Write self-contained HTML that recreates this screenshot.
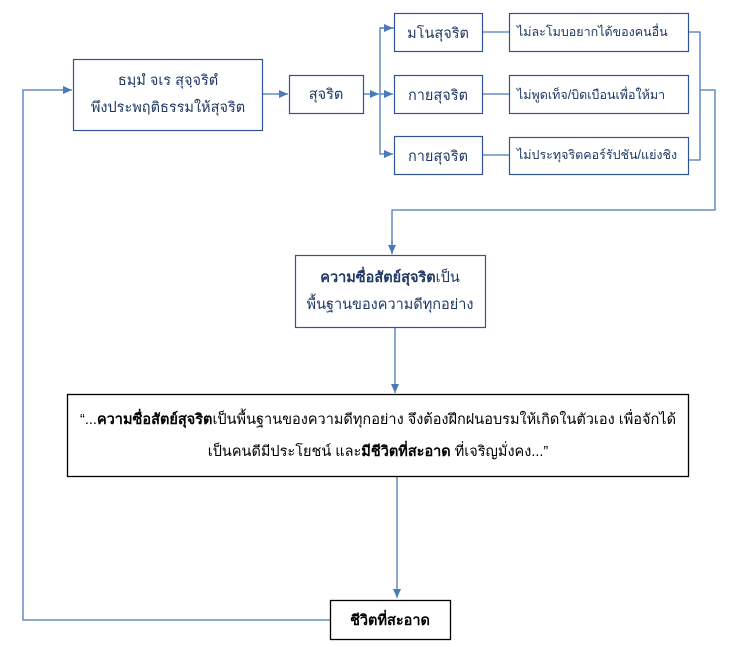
<!DOCTYPE html>
<html><head><meta charset="utf-8"><style>
html,body{margin:0;padding:0;background:#fff;}
svg{display:block;}
text{font-family:"Liberation Sans","DejaVu Sans",sans-serif;font-size:14.5px;}
.m{text-anchor:middle;}
.s{text-anchor:start;font-size:12.5px;}
</style></head><body>
<svg width="746" height="647" viewBox="0 0 746 647" xmlns="http://www.w3.org/2000/svg">
<defs><marker id="a" markerWidth="10" markerHeight="10" refX="9" refY="5" orient="auto" markerUnits="userSpaceOnUse"><path d="M0,1 L9,5 L0,9 z" fill="#4a7ab8"/></marker></defs>
<g fill="none" stroke="#4a7ab8" stroke-width="1.3">
<path d="M262,94 H288" marker-end="url(#a)"/>
<path d="M363,94 H379" marker-end="url(#a)"/>
<path d="M394,28 H380 V154 H393" marker-end="url(#a)"/>
<path d="M380,28 H393" marker-end="url(#a)"/>
<path d="M380,94 H393" marker-end="url(#a)"/>
<path d="M482,32 H509 M482,94 H509 M482,155 H509"/>
<path d="M688,32 H700 V160 H688 M700,90 H715 V210 H392 V254" />
<path d="M392,240 V254" marker-end="url(#a)"/>
<path d="M395,327 V393" marker-end="url(#a)"/>
<path d="M397,476 V598" marker-end="url(#a)"/>
<path d="M330,620 H23 V90 H72" marker-end="url(#a)"/>
</g>
<g fill="#fff" stroke="#2f5597" stroke-width="1.2">
<rect x="73.5" y="59.5" width="189" height="71"/>
<rect x="289.5" y="75.5" width="74" height="38"/>
<rect x="394.5" y="13.5" width="88" height="38"/>
<rect x="394.5" y="75.5" width="88" height="38"/>
<rect x="394.5" y="136.5" width="88" height="38"/>
<rect x="509.5" y="13.5" width="179" height="38"/>
<rect x="509.5" y="75.5" width="179" height="38"/>
<rect x="509.5" y="137.5" width="179" height="37"/>
<rect x="295.5" y="255.5" width="190" height="72"/>
</g>
<g fill="#fff" stroke="#000" stroke-width="1.3">
<rect x="67.5" y="394.5" width="621" height="82"/>
<rect x="330.5" y="600.5" width="120" height="39"/>
</g>
<g fill="#1f3864">
<text class="m" x="168" y="85">ธมฺมํ จเร สุจฺจริตํ</text>
<text class="m" x="168" y="112">พึงประพฤติธรรมให้สุจริต</text>
<text class="m" x="326" y="99">สุจริต</text>
<text class="m" x="438" y="38">มโนสุจริต</text>
<text class="m" x="438" y="100">กายสุจริต</text>
<text class="m" x="438" y="161">กายสุจริต</text>
<text class="s" x="517" y="36">ไม่ละโมบอยากได้ของคนอื่น</text>
<text class="s" x="517" y="99">ไม่พูดเท็จ/บิดเบือนเพื่อให้มา</text>
<text class="s" x="517" y="159">ไม่ประทุจริตคอร์รัปชัน/แย่งชิง</text>
<text class="m" x="390" y="282" font-weight="bold">ความซื่อสัตย์สุจริต<tspan font-weight="normal">เป็น</tspan></text>
<text class="m" x="390" y="309">พื้นฐานของความดีทุกอย่าง</text>
</g>
<g fill="#000">
<text class="m" x="378" y="424" textLength="596" lengthAdjust="spacingAndGlyphs">“...<tspan font-weight="bold">ความซื่อสัตย์สุจริต</tspan>เป็นพื้นฐานของความดีทุกอย่าง  จึงต้องฝึกฝนอบรมให้เกิดในตัวเอง เพื่อจักได้</text>
<text class="m" x="378" y="456">เป็นคนดีมีประโยชน์ และ<tspan font-weight="bold">มีชีวิตที่สะอาด</tspan> ที่เจริญมั่งคง...”</text>
<text class="m" x="390" y="625" font-weight="bold">ชีวิตที่สะอาด</text>
</g>
</svg>
</body></html>
